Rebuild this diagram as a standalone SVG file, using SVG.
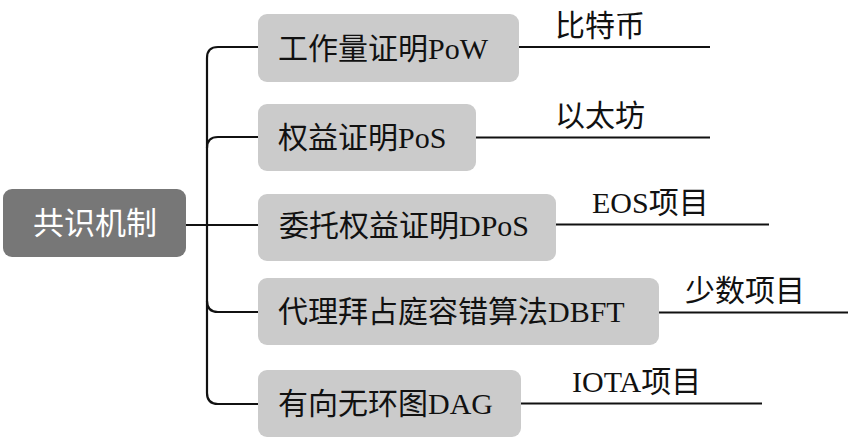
<svg xmlns="http://www.w3.org/2000/svg" width="856" height="448" viewBox="0 0 856 448">
<style>
.box{fill:#cbcbcb}
.root{fill:#777777}
.t{font-family:"Liberation Serif","Noto Sans CJK SC",serif;font-size:30px;fill:#111}
.rt{font-family:"Liberation Serif","Noto Sans CJK SC",serif;font-size:31px;fill:#ffffff;text-anchor:middle}
.ln{fill:none;stroke:#111;stroke-width:2.2}
</style>
<rect width="856" height="448" fill="#ffffff"/>
<g id="connectors">
<path class="ln" d="M259 47 H218 Q207 47 207 58 V393 Q207 404 218 404 H259"/>
<path class="ln" d="M259 137 H218 Q207 137 207 148"/>
<path class="ln" d="M207 301 Q207 312 218 312 H259"/>
<path class="ln" d="M186 225 H259"/>
<path class="ln" d="M519 47 H710"/>
<path class="ln" d="M476 137.5 H710"/>
<path class="ln" d="M556 224.5 H769"/>
<path class="ln" d="M659 312.5 H848"/>
<path class="ln" d="M521 403.5 H762"/>
</g>
<g id="root">
<rect class="root" x="3" y="189" width="183" height="68" rx="9"/>
<text class="rt" x="95" y="234">共识机制</text>
</g>
<g id="pow">
<rect class="box" x="258" y="14" width="261" height="68" rx="9"/>
<text class="t" x="278" y="59">工作量证明PoW</text>
</g>
<g id="pos">
<rect class="box" x="258" y="104" width="218" height="67" rx="9"/>
<text class="t" x="278" y="148">权益证明PoS</text>
</g>
<g id="dpos">
<rect class="box" x="258" y="194" width="298" height="67" rx="9"/>
<text class="t" x="279" y="236">委托权益证明DPoS</text>
</g>
<g id="dbft">
<rect class="box" x="258" y="278" width="401" height="67" rx="9"/>
<text class="t" x="278" y="322">代理拜占庭容错算法DBFT</text>
</g>
<g id="dag">
<rect class="box" x="258" y="370" width="263" height="67" rx="9"/>
<text class="t" x="278" y="414">有向无环图DAG</text>
</g>
<g id="btc"><text class="t" x="555" y="36">比特币</text></g>
<g id="eth"><text class="t" x="555" y="126">以太坊</text></g>
<g id="eos"><text class="t" x="592" y="213">EOS项目</text></g>
<g id="few"><text class="t" x="685" y="301">少数项目</text></g>
<g id="iota"><text class="t" x="572" y="392">IOTA项目</text></g>
</svg>
